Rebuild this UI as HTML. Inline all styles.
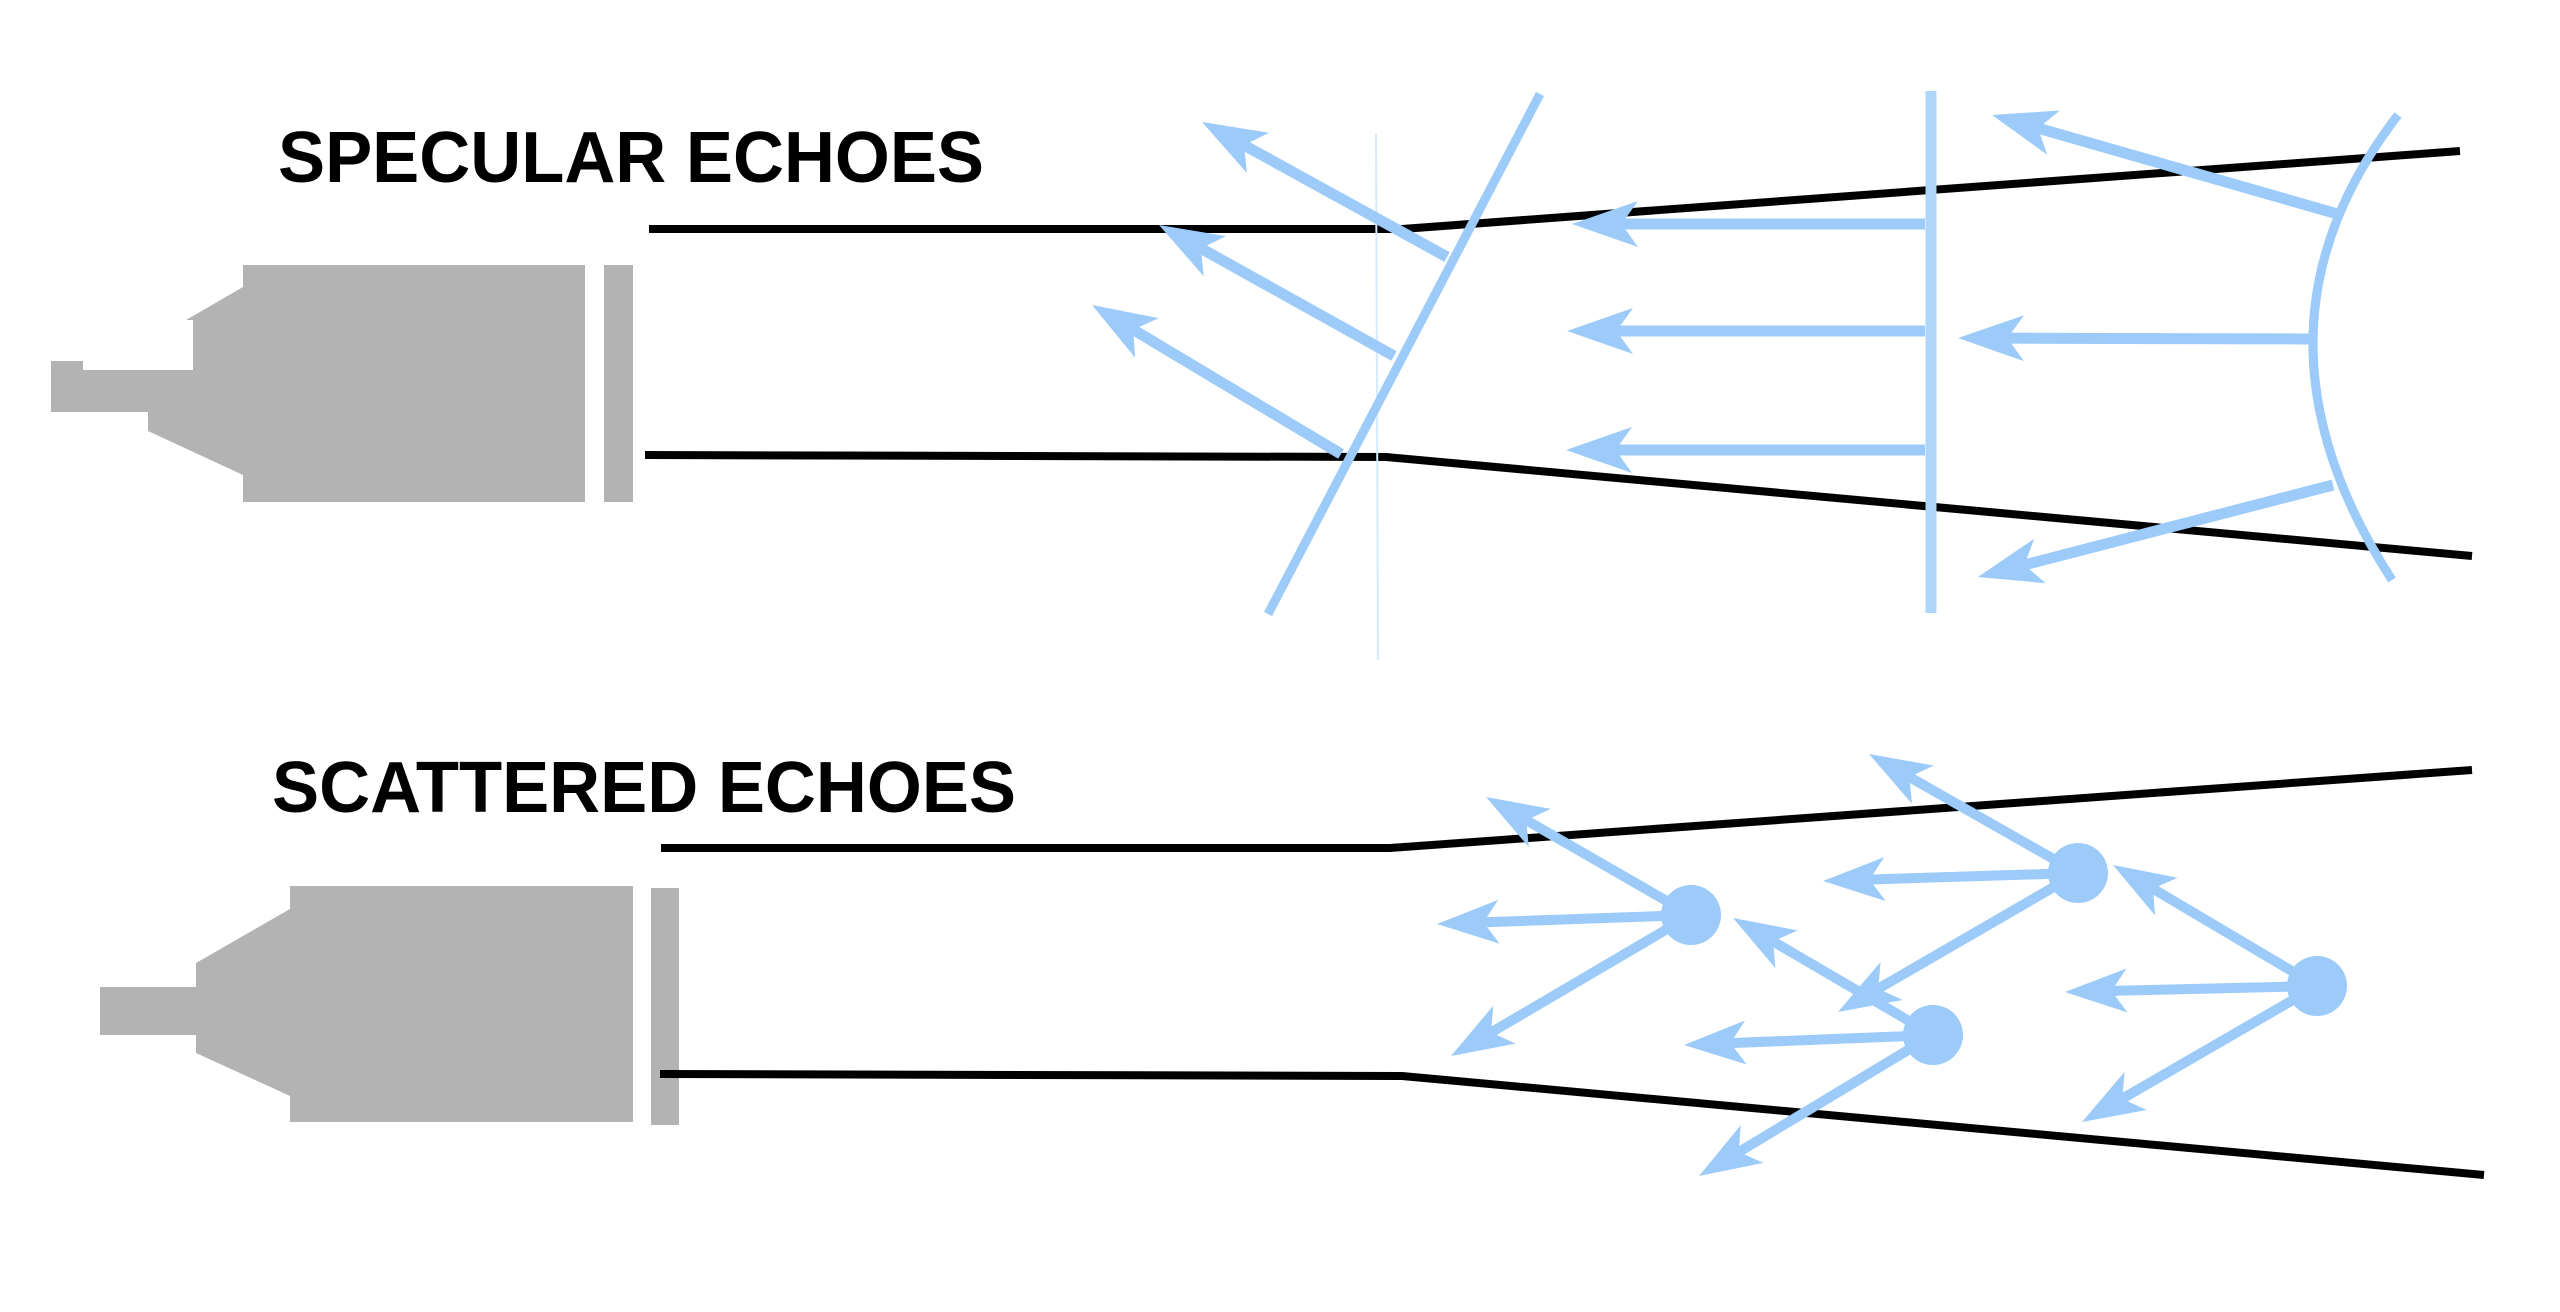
<!DOCTYPE html>
<html><head><meta charset="utf-8"><style>
html,body{margin:0;padding:0;background:#fff;width:2560px;height:1312px;overflow:hidden}
svg{display:block}
text{font-family:"Liberation Sans",Arial,sans-serif;font-weight:bold;font-size:72px;fill:#000}
</style></head><body>
<svg id="s" width="2560" height="1312" viewBox="0 0 2560 1312" xmlns="http://www.w3.org/2000/svg">
<text x="278" y="182" textLength="706" lengthAdjust="spacingAndGlyphs">SPECULAR ECHOES</text>
<text x="272" y="812" textLength="744" lengthAdjust="spacingAndGlyphs">SCATTERED ECHOES</text>
<g fill="#b3b3b3">
<polygon points="243,265 585,265 585,502 243,502 243,475 148,431 148,412 51,412 51,361 83,361 83,370 193,370 193,320 186,320 243,287"/>
<rect x="604" y="265" width="29" height="237"/>
<polygon points="290,886 633,886 633,1122 290,1122 290,1096 196,1053 196,1035 100,1035 100,987 196,987 196,963 290,909"/>
<rect x="651" y="888" width="28" height="237"/>
</g>
<g fill="none" stroke="#000" stroke-width="8" stroke-linejoin="round">
<polyline points="649,229 1402,229 2460,151"/>
<polyline points="645,455 1386,457 2472,556"/>
<polyline points="661,848 1390,848 2472,770"/>
<polyline points="660,1074 1402,1076 2484,1175"/>
</g>
<line x1="1376" y1="134" x2="1378" y2="660" stroke="#d6eafd" stroke-width="2"/>
<line x1="1540" y1="94" x2="1268" y2="614" stroke="#9ccbfa" stroke-width="9"/>
<line x1="1931" y1="91" x2="1931" y2="613" stroke="#aed6fb" stroke-width="11"/>
<path d="M2398,115 Q2231,331 2392,580" fill="none" stroke="#9ccbfa" stroke-width="9"/>
<g fill="#9ccbfa">
<ellipse cx="1691" cy="915" rx="30" ry="30"/>
<ellipse cx="2078" cy="873" rx="30" ry="30"/>
<ellipse cx="1933" cy="1035" rx="30" ry="30"/>
<ellipse cx="2317" cy="986" rx="30" ry="30"/>
</g>
<g id="arrows"></g>
</svg>
<script>
var g=document.getElementById('arrows');
function A(x1,y1,x2,y2,w,L,W,c){
 c=c||'#9ccbfa';
 var dx=x2-x1,dy=y2-y1,d=Math.hypot(dx,dy),ux=dx/d,uy=dy/d,px=-uy,py=ux;
 var ns='http://www.w3.org/2000/svg';
 var l=document.createElementNS(ns,'line');
 l.setAttribute('x1',x1);l.setAttribute('y1',y1);
 l.setAttribute('x2',x2-ux*L*0.6);l.setAttribute('y2',y2-uy*L*0.6);
 l.setAttribute('stroke',c);l.setAttribute('stroke-width',w);g.appendChild(l);
 var bx=x2-ux*L,by=y2-uy*L,nx=x2-ux*L*0.75,ny=y2-uy*L*0.75;
 var p=document.createElementNS(ns,'polygon');
 p.setAttribute('points',[x2,y2,bx+px*W,by+py*W,nx,ny,bx-px*W,by-py*W].join(','));
 p.setAttribute('fill',c);g.appendChild(p);
}
A(1447,257,1202,122,11,64,23);
A(1394,356,1159,225,11,64,23);
A(1341,454,1092,305,11,64,23);
A(1925,224,1572,224,11,66,23);
A(1925,331,1567,331,11,66,23);
A(1925,450,1566,450,11,66,23);
A(2310,339,1958,338,11,66,23);
A(2341,215,1992,115,11,64,23);
A(2333,485,1978,577,11,64,23);
var D=[[1691,915,[[1486,797],[1437,924],[1451,1056]]],[2078,873,[[1869,754],[1823,881],[1838,1012]]],[1933,1035,[[1733,918],[1684,1045],[1699,1176]]],[2317,986,[[2113,865],[2065,992],[2082,1122]]]];
D.forEach(function(d){d[2].forEach(function(t){A(d[0],d[1],t[0],t[1],10,62,22);});});
</script>
</body></html>
